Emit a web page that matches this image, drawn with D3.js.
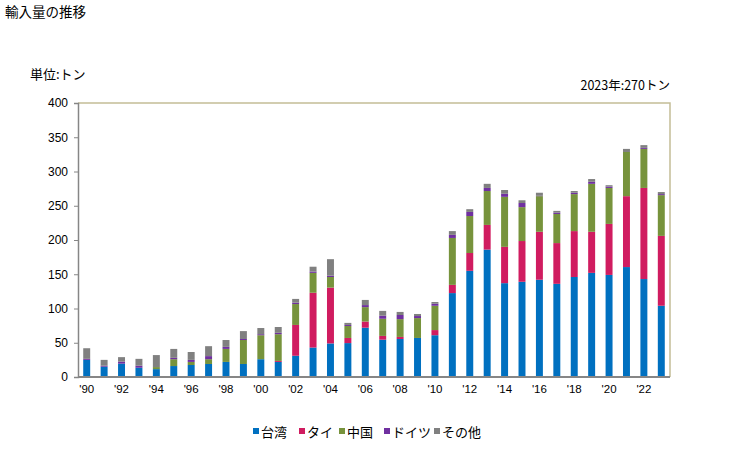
<!DOCTYPE html>
<html><head><meta charset="utf-8">
<script src="https://cdn.jsdelivr.net/npm/d3@7"></script>
<style>body{margin:0;background:#fff;font-family:"Noto Sans CJK JP","Liberation Sans",sans-serif;}</style>
</head><body><svg id="c" width="729" height="450"></svg>
<script>
const years = d3.range(1990, 2024);
const seriesNames = ["台湾", "タイ", "中国", "ドイツ", "その他"];
const colors = ["#0070C0", "#D01C60", "#77933C", "#7030A0", "#808080"];
const taiwan = [25,15,19.5,13.5,11.5,16,17.5,19,22,19,26,22,31,43,49,49.5,72,54.5,55.5,57,61,122.5,155,186,137,139,142,136,146,152,149,160.5,143,104];
const thai   = [0,0,0,0,0,0,0,0,0,0,0,1.5,45,80,81.5,7.5,9,5.5,3,0,7.5,12,26,36,53,59.5,70,59.5,67,60,74.5,103.5,133,102];
const china  = [0,0,0,0,3,10,4.5,7,19,35,35,39,30.5,29,15.5,17.5,21,25,26,29,35.5,68.5,54,49.5,73,49.5,52,42.5,54,70,52.5,64.5,57,59.5];
const germany= [1.5,1.5,3,3,0,2,3,4.5,3,1.5,1.5,2,2,2,2,1.5,3,4.5,6,3,3,4.5,6,4.5,4.5,6,0.5,2,2,3,2,0,1.5,1.5];
const others = [15.5,8.5,6.5,10,17.5,13,11.5,14.5,10,11.5,9,8.5,5.5,7,24,3,7.5,7,4.5,3,2.5,5.5,4,6,5.5,4,4.5,2.5,2.5,4,2,4.5,4,3];
const yTicks = [0,50,100,150,200,250,300,350,400];
const title = "輸入量の推移";
const unitLabel = "単位:トン";
const noteLabel = "2023年:270トン";

const seriesData = [taiwan, thai, china, germany, others];
const rows = years.map((y,i)=>{const o={year:y}; seriesNames.forEach((s,k)=>o[s]=seriesData[k][i]); return o;});
const stacked = d3.stack().keys(seriesNames)(rows);

const svg = d3.select("#c");
const m = {l:78, r:670, t:103, b:377};
const x = d3.scaleBand().domain(years).range([m.l, m.r]).paddingInner(0.6).paddingOuter(0.3);
const y = d3.scaleLinear().domain([0,400]).range([m.b, m.t]);
const font = "'Liberation Sans', Arial, sans-serif";
const jfont = "'Noto Sans CJK JP', sans-serif";

// frame (top and right)
svg.append("path").attr("d",`M${m.l},${m.t}H${m.r}V${m.b}`).attr("fill","none").attr("stroke","#C4BD97").attr("stroke-width",1.5);

// bars
svg.append("g").selectAll("g").data(stacked).join("g").attr("fill",(d,i)=>colors[i])
  .selectAll("rect").data(d=>d).join("rect")
  .attr("x",d=>x(d.data.year)).attr("width",x.bandwidth())
  .attr("y",d=>y(d[1])).attr("height",d=>Math.max(0,y(d[0])-y(d[1])));

// y axis
const ya = svg.append("g").attr("transform",`translate(${m.l},0)`).call(d3.axisLeft(y).tickValues(yTicks).tickSize(4).tickPadding(6));
ya.select(".domain").attr("stroke","#868686").attr("stroke-width",1.5);
ya.selectAll(".tick line").attr("stroke","#868686");
ya.selectAll("text").attr("font-family",font).attr("font-size",12).attr("fill","#000");

// x axis
const xa = svg.append("g").attr("transform",`translate(0,${m.b})`).call(d3.axisBottom(x).tickSize(0).tickPadding(8)
  .tickFormat(d=> d%2===0 ? "'"+String(d).slice(2) : ""));
xa.select(".domain").attr("stroke","#868686").attr("stroke-width",2).attr("d",`M${m.l},0H${m.r}`);
xa.selectAll("text").attr("font-family",font).attr("font-size",11.5).attr("fill","#000");

// texts
svg.append("text").attr("x",5).attr("y",17).attr("font-family",jfont).attr("font-size",13.5).text(title);
svg.append("text").attr("x",30).attr("y",79).attr("font-family",jfont).attr("font-size",13).text(unitLabel);
svg.append("text").attr("x",670).attr("y",90).attr("text-anchor","end").attr("font-family",jfont).attr("font-size",12.5).text(noteLabel);

// legend
const lg = svg.append("g").attr("transform","translate(253,432)");
const offs = [0,46,86,131,181];
seriesNames.forEach((s,i)=>{
  const g = lg.append("g").attr("transform",`translate(${offs[i]},0)`);
  g.append("rect").attr("x",0).attr("y",-4).attr("width",6).attr("height",6).attr("fill",colors[i]);
  g.append("text").attr("x",8).attr("y",5).attr("font-family",jfont).attr("font-size",13).text(s);
});
</script></body></html>
